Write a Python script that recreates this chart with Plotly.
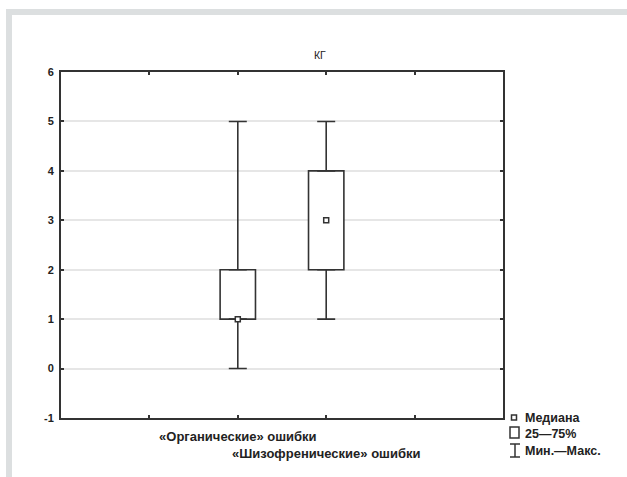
import plotly.graph_objects as go

# ---- data ----
categories = ["«Органические» ошибки", "«Шизофренические» ошибки"]
q_min = [0, 1]
q1 = [1, 2]
median = [1, 3]
q3 = [2, 4]
q_max = [5, 5]
title_text = "КГ"
legend_labels = ["Медиана", "25—75%", "Мин.—Макс."]
y_ticks = [-1, 0, 1, 2, 3, 4, 5, 6]
y_tick_labels = ["-1", "0", "1", "2", "3", "4", "5", "6"]

W, H = 627, 477
L, R, T, B = 61, 124, 72, 59
PW, PH = W - L - R, H - T - B
FONT = "Liberation Sans, Arial, sans-serif"
DARK = "#222222"
LINE = "#333333"


def px(x):
    return (x - L) / PW


def py(y):
    return (H - B - y) / PH


xpos = list(range(len(categories)))

fig = go.Figure()

# boxes (25-75%)
fig.add_trace(go.Bar(
    x=xpos, y=[b - a for a, b in zip(q1, q3)], base=q1, width=0.4,
    marker=dict(color="white", line=dict(color=LINE, width=1.6)),
    showlegend=False, hoverinfo="skip",
))
# upper whiskers
fig.add_trace(go.Scatter(
    x=xpos, y=q3, mode="markers", marker=dict(size=1, opacity=0),
    error_y=dict(type="data", symmetric=False,
                 array=[m - q for m, q in zip(q_max, q3)], arrayminus=[0] * len(xpos),
                 width=9, thickness=1.6, color=LINE),
    showlegend=False, hoverinfo="skip",
))
# lower whiskers
fig.add_trace(go.Scatter(
    x=xpos, y=q1, mode="markers", marker=dict(size=1, opacity=0),
    error_y=dict(type="data", symmetric=False,
                 array=[0] * len(xpos), arrayminus=[q - m for q, m in zip(q1, q_min)],
                 width=9, thickness=1.6, color=LINE),
    showlegend=False, hoverinfo="skip",
))
# medians
fig.add_trace(go.Scatter(
    x=xpos, y=median, mode="markers",
    marker=dict(symbol="square", size=5, color="white", line=dict(color=LINE, width=1.5)),
    showlegend=False, hoverinfo="skip",
))

shapes = []
# grey frame
shapes.append(dict(type="rect", xref="paper", yref="paper", layer="below",
                   x0=px(6), x1=px(627), y0=py(15), y1=py(9),
                   fillcolor="#dcdfe0", line=dict(width=0)))
shapes.append(dict(type="rect", xref="paper", yref="paper", layer="below",
                   x0=px(6), x1=px(12), y0=py(477), y1=py(9),
                   fillcolor="#dcdfe0", line=dict(width=0)))
# legend icons
shapes.append(dict(type="rect", xref="paper", yref="paper",
                   x0=px(511.5), x1=px(516.5), y0=py(420), y1=py(415),
                   fillcolor="white", line=dict(color=LINE, width=1.5)))
shapes.append(dict(type="rect", xref="paper", yref="paper",
                   x0=px(510), x1=px(519), y0=py(438), y1=py(427),
                   fillcolor="white", line=dict(color=LINE, width=1.5)))
shapes.append(dict(type="line", xref="paper", yref="paper",
                   x0=px(515), x1=px(515), y0=py(457), y1=py(444),
                   line=dict(color=LINE, width=1.5)))
for yy in (444, 457):
    shapes.append(dict(type="line", xref="paper", yref="paper",
                       x0=px(510), x1=px(520), y0=py(yy), y1=py(yy),
                       line=dict(color=LINE, width=1.5)))

annotations = [
    dict(text=title_text, xref="paper", yref="paper", x=px(320), y=py(55),
         showarrow=False, xanchor="center", yanchor="middle",
         font=dict(family=FONT, size=10.5, color=DARK)),
]
for lab, yy in zip(legend_labels, (418, 434, 451)):
    annotations.append(dict(text="<b>" + lab + "</b>", xref="paper", yref="paper",
                            x=px(523), y=py(yy),
                            showarrow=False, xanchor="left", yanchor="middle",
                            font=dict(family=FONT, size=12.5, color=DARK)))

tickvals = [-1] + xpos + [2]
ticktext = [""] + [("<b>" + c + "</b>") if i % 2 == 0 else "<br><b>" + c + "</b>"
                   for i, c in enumerate(categories)] + [""]

fig.update_layout(
    width=W, height=H,
    margin=dict(l=L, r=R, t=T, b=B, pad=0, autoexpand=False),
    paper_bgcolor="white", plot_bgcolor="white",
    showlegend=False, barmode="overlay",
    font=dict(family=FONT, size=12, color=DARK),
    shapes=shapes, annotations=annotations,
    xaxis=dict(range=[-2, 3], tickvals=tickvals, ticktext=ticktext, tickangle=0,
               automargin=False, ticklabelstandoff=5,
               showline=True, mirror="ticks", linecolor=LINE, linewidth=2,
               ticks="inside", ticklen=3, tickcolor=LINE, tickwidth=1.5,
               showgrid=False, zeroline=False,
               tickfont=dict(family=FONT, size=13, color=DARK)),
    yaxis=dict(range=[-1, 6], tickvals=y_ticks,
               ticktext=["<b>" + t + "</b>" for t in y_tick_labels],
               automargin=False, ticklabelstandoff=3,
               showline=True, mirror="ticks", linecolor=LINE, linewidth=2,
               ticks="inside", ticklen=3, tickcolor=LINE, tickwidth=1.5,
               showgrid=True, gridcolor="#e6e6e6", gridwidth=1.5, zeroline=False,
               tickfont=dict(family=FONT, size=11, color=DARK)),
)

fig.write_html("out.html", config={"displayModeBar": False},
               post_script="document.body.style.margin='0';document.body.style.padding='0';")
